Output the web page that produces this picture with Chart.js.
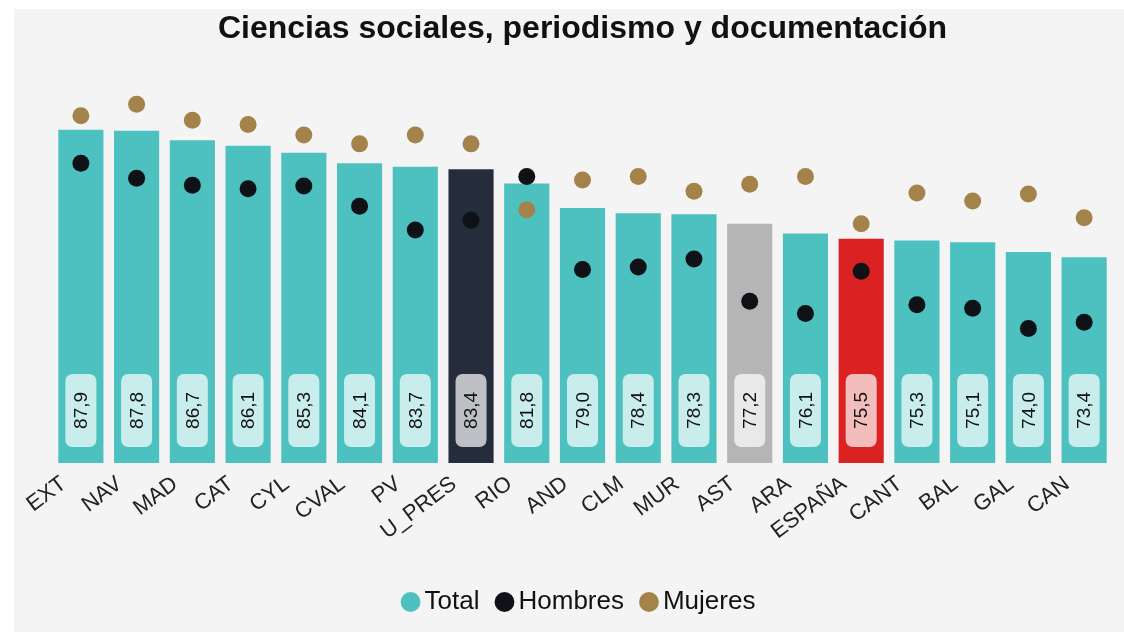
<!DOCTYPE html>
<html>
<head>
<meta charset="utf-8">
<script src="https://cdn.jsdelivr.net/npm/chart.js@4.4.1/dist/chart.umd.min.js"></script>
<style>
  html, body { margin: 0; padding: 0; background: #ffffff; }
  #wrap { width: 1124px; height: 632px; position: relative; }
</style>
</head>
<body>
<div id="wrap"><canvas id="c" width="1124" height="632"></canvas></div>
<script>
const categories = ["EXT","NAV","MAD","CAT","CYL","CVAL","PV","U_PRES","RIO","AND","CLM","MUR","AST","ARA","ESPAÑA","CANT","BAL","GAL","CAN"];
const total   = [87.9,87.8,86.7,86.1,85.3,84.1,83.7,83.4,81.8,79.0,78.4,78.3,77.2,76.1,75.5,75.3,75.1,74.0,73.4];
const hombres = [84.1,82.4,81.6,81.2,81.5,79.2,76.5,77.6,82.6,72.0,72.3,73.2,68.4,67.0,71.8,68.0,67.6,65.3,66.0];
const mujeres = [89.5,90.8,89.0,88.5,87.3,86.3,87.3,86.3,78.8,82.2,82.6,80.9,81.7,82.6,77.2,80.7,79.8,80.6,77.9];

const TEAL = '#4cc1bf', DARK = '#252d3c', GREY = '#b5b5b5', RED = '#da2222';
const special = { 'U_PRES': DARK, 'AST': GREY, 'ESPAÑA': RED };
const barColors = categories.map(c => special[c] || TEAL);

const FONT = "'Liberation Sans', Arial, sans-serif";

const background = {
  id: 'background',
  beforeDraw(chart) {
    const ctx = chart.ctx;
    ctx.save();
    ctx.fillStyle = '#f4f4f4';
    ctx.fillRect(14, 9, chart.width - 14, chart.height - 9);
    ctx.restore();
  }
};

const valueLabels = {
  id: 'valueLabels',
  afterDatasetDraw(chart, args) {
    if (args.index !== 0) return;
    const ctx = chart.ctx;
    const area = chart.chartArea;
    const meta = args.meta;
    const bw = 31, bh = 73;
    const cy = area.bottom - 16 - bh / 2;
    ctx.save();
    meta.data.forEach((bar, i) => {
      const x = bar.x;
      ctx.fillStyle = 'rgba(255,255,255,0.7)';
      ctx.beginPath();
      ctx.roundRect(x - bw / 2, cy - bh / 2, bw, bh, 7);
      ctx.fill();
      ctx.save();
      ctx.translate(x, cy);
      ctx.rotate(-Math.PI / 2);
      ctx.fillStyle = '#111';
      ctx.font = "19px " + FONT;
      ctx.textAlign = 'center';
      ctx.textBaseline = 'middle';
      ctx.fillText(total[i].toFixed(1).replace('.', ','), 0, 1);
      ctx.restore();
    });
    ctx.restore();
  }
};

new Chart(document.getElementById('c'), {
  type: 'bar',
  data: {
    labels: categories,
    datasets: [
      {
        label: 'Total',
        data: total,
        backgroundColor: barColors,
        borderWidth: 0,
        barPercentage: 0.9,
        categoryPercentage: 0.9,
        order: 3
      },
      {
        type: 'line',
        label: 'Hombres',
        data: hombres,
        showLine: false,
        pointRadius: 8.5,
        pointHoverRadius: 8.5,
        pointBackgroundColor: '#0e1116',
        pointBorderWidth: 0,
        backgroundColor: '#0e1116',
        borderColor: '#0e1116',
        borderWidth: 0,
        order: 1
      },
      {
        type: 'line',
        label: 'Mujeres',
        data: mujeres,
        showLine: false,
        pointRadius: 8.5,
        pointHoverRadius: 8.5,
        pointBackgroundColor: '#a3834a',
        pointBorderWidth: 0,
        backgroundColor: '#a3834a',
        borderColor: '#a3834a',
        borderWidth: 0,
        order: 2
      }
    ]
  },
  options: {
    responsive: false,
    animation: false,
    layout: { padding: { left: 53, right: 12, top: 0, bottom: 7 } },
    scales: {
      y: { display: false, min: 50, max: 95 },
      x: {
        grid: { display: false },
        border: { display: false },
        ticks: {
          color: '#222',
          font: { family: FONT, size: 22 },
          minRotation: 37,
          maxRotation: 37,
          autoSkip: false,
          padding: 0,
          labelOffset: -17
        },
        afterFit(scale) { scale.height += 20; }
      }
    },
    plugins: {
      title: {
        display: true,
        text: 'Ciencias sociales, periodismo y documentación',
        color: '#111',
        font: { family: FONT, size: 32, weight: 'bold' },
        padding: { top: 10, bottom: 19 }
      },
      legend: {
        position: 'bottom',
        labels: {
          usePointStyle: true,
          pointStyle: 'circle',
          boxWidth: 2,
          boxHeight: 14,
          padding: 24,
          color: '#111',
          font: { family: FONT, size: 26 },
          sort: (a, b) => a.datasetIndex - b.datasetIndex
        }
      },
      tooltip: { enabled: false }
    }
  },
  plugins: [background, valueLabels]
});
</script>
</body>
</html>
